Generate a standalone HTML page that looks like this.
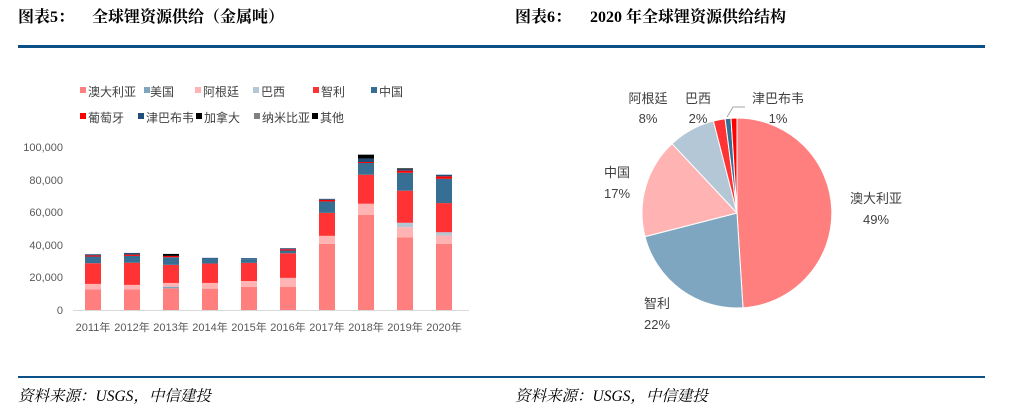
<!DOCTYPE html>
<html><head><meta charset="utf-8"><style>
body{margin:0;background:#fff;}
svg{display:block;font-family:"Liberation Sans","Noto Sans CJK SC",sans-serif;}
</style></head><body>
<svg width="1033" height="411" viewBox="0 0 1033 411">
<g font-family="Liberation Serif,'Noto Serif CJK SC',serif" font-weight="bold" font-size="16" fill="#000">
<text x="18" y="22">图表5：</text><text x="92" y="22">全球锂资源供给（金属吨）</text>
<text x="515" y="22">图表6：</text><text x="590" y="22">2020 年全球锂资源供给结构</text>
</g>
<rect x="18" y="45" width="967" height="3" fill="#0B5086"/>
<rect x="18" y="376" width="967" height="2" fill="#0B5086"/>
<text x="18" y="401" font-family="Liberation Serif,'Noto Serif CJK SC',serif" font-style="italic" font-size="15.5" fill="#000">资料来源：USGS，中信建投</text>
<text x="515" y="401" font-family="Liberation Serif,'Noto Serif CJK SC',serif" font-style="italic" font-size="15.5" fill="#000">资料来源：USGS，中信建投</text>

<g font-size="12" fill="#404040">
<rect x="80" y="87" width="6" height="6" fill="#FF7F7F"/><text x="88" y="96">澳大利亚</text>
<rect x="144" y="87" width="6" height="6" fill="#7FA6C0"/><text x="150" y="96">美国</text>
<rect x="195" y="87" width="6" height="6" fill="#FFB3B3"/><text x="203" y="96">阿根廷</text>
<rect x="253" y="87" width="6" height="6" fill="#B4C7D6"/><text x="261" y="96">巴西</text>
<rect x="313" y="87" width="6" height="6" fill="#FF3333"/><text x="321" y="96">智利</text>
<rect x="371" y="87" width="6" height="6" fill="#376F94"/><text x="379" y="96">中国</text>
<rect x="80" y="113" width="6" height="6" fill="#FF0000"/><text x="88" y="122">葡萄牙</text>
<rect x="138" y="113" width="6" height="6" fill="#1F4E79"/><text x="146" y="122">津巴布韦</text>
<rect x="196" y="113" width="6" height="6" fill="#000"/><text x="204" y="122">加拿大</text>
<rect x="254" y="113" width="6" height="6" fill="#808080"/><text x="262" y="122">纳米比亚</text>
<rect x="312" y="113" width="6" height="6" fill="#000"/><text x="320" y="122">其他</text>
</g>

<g font-size="11" fill="#595959" text-anchor="end">
<text x="63" y="151">100,000</text><text x="63" y="184">80,000</text><text x="63" y="216">60,000</text>
<text x="63" y="249">40,000</text><text x="63" y="281">20,000</text><text x="63" y="314">0</text>
</g>
<line x1="73" y1="310.5" x2="469" y2="310.5" stroke="#D9D9D9" stroke-width="1"/>
<g id="bars"></g>
<g font-size="11" fill="#595959" text-anchor="middle" id="years"></g>

<g stroke="#fff" stroke-width="1">
<path d="M737,213 L737,118 A95,95 0 0 1 743,307.8 Z" fill="#FF7F7F"/>
<path d="M737,213 L743,307.8 A95,95 0 0 1 645,236.6 Z" fill="#7FA6C0"/>
<path d="M737,213 L645,236.6 A95,95 0 0 1 672,143.7 Z" fill="#FFB3B3"/>
<path d="M737,213 L672,143.7 A95,95 0 0 1 713.4,121 Z" fill="#B4C7D6"/>
<path d="M737,213 L713.4,121 A95,95 0 0 1 725.1,118.7 Z" fill="#FF3333"/>
<path d="M737,213 L725.1,118.7 A95,95 0 0 1 731,118.2 Z" fill="#376F94"/>
<path d="M737,213 L731,118.2 A95,95 0 0 1 737,118 Z" fill="#FF0000"/>
</g>
<polyline points="727,117 733,107 745,107" fill="none" stroke="#A6A6A6" stroke-width="1"/>
<g font-size="13" fill="#404040" text-anchor="middle">
<text x="648" y="103">阿根廷</text><text x="648" y="123">8%</text>
<text x="698" y="103">巴西</text><text x="698" y="123">2%</text>
<text x="778" y="103">津巴布韦</text><text x="778" y="123">1%</text>
<text x="617" y="177">中国</text><text x="617" y="198">17%</text>
<text x="876" y="203">澳大利亚</text><text x="876" y="224">49%</text>
<text x="657" y="308">智利</text><text x="657" y="329">22%</text>
</g>
</svg>
<script>
var colors={aus:"#FF7F7F",usa:"#7FA6C0",arg:"#FFB3B3",bra:"#B4C7D6",chi:"#FF3333",cn:"#376F94",por:"#FF0000",zim:"#1F4E79",can:"#000",oth:"#000"};
var data=[
[["aus",12.7],["arg",16],["chi",28.7],["cn",32.8],["por",33.5],["zim",34.2]],
[["aus",12.7],["arg",15.4],["chi",29],["cn",33.2],["por",34],["zim",35]],
[["aus",13.3],["usa",14.3],["arg",16.6],["chi",27.7],["cn",32.4],["por",33.2],["oth",34.4]],
[["aus",13.1],["arg",16.6],["chi",28.5],["cn",31.4],["zim",32]],
[["aus",14.1],["arg",17.8],["chi",28.9],["cn",31.1],["zim",31.8]],
[["aus",14.1],["arg",19.7],["chi",34.8],["cn",36.5],["por",37.3],["zim",37.9]],
[["aus",40.6],["arg",45.5],["chi",59.6],["cn",66.6],["por",67.6],["zim",68.2]],
[["aus",58.4],["arg",65.2],["chi",83],["cn",90.2],["por",90.8],["zim",92.8],["oth",95.3]],
[["aus",44.5],["arg",50.8],["bra",53.5],["chi",73.2],["cn",84.2],["por",85.5],["zim",86.3],["oth",86.9]],
[["aus",40.6],["arg",45.7],["bra",47.7],["chi",65.6],["cn",80.5],["por",82],["zim",83]]];
var ns="http://www.w3.org/2000/svg",g=document.getElementById("bars"),yg=document.getElementById("years");
data.forEach(function(b,i){var cx=93+39*i,prev=0;
b.forEach(function(s){var r=document.createElementNS(ns,"rect");var y0=310-prev*1.63,y1=310-s[1]*1.63;
r.setAttribute("x",cx-8);r.setAttribute("width",16);r.setAttribute("y",y1);r.setAttribute("height",y0-y1);r.setAttribute("fill",colors[s[0]]);g.appendChild(r);prev=s[1];});
var t=document.createElementNS(ns,"text");t.setAttribute("x",cx);t.setAttribute("y",331);t.textContent=(2011+i)+"年";yg.appendChild(t);});
</script>
</body></html>
